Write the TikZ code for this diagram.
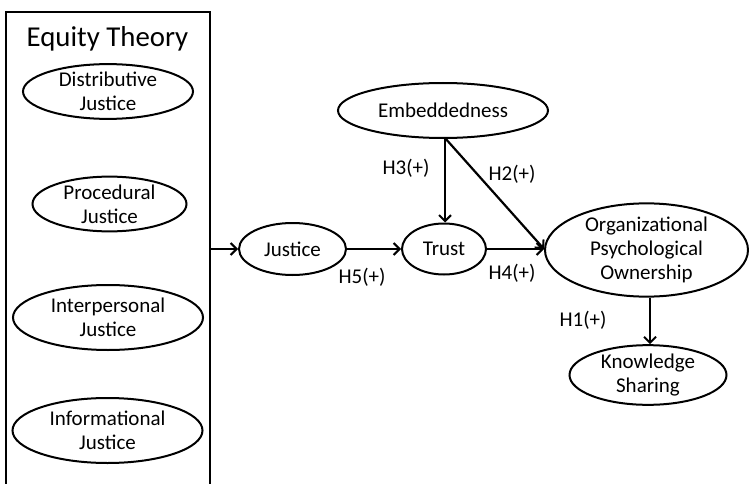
\documentclass[tikz,border=0pt]{standalone}
\usepackage{fontspec}
\setmainfont{Carlito}
\usetikzlibrary{shapes.geometric,arrows.meta}

\begin{document}
\begin{tikzpicture}[x=1pt,y=-1pt,
    construct/.style={draw, ellipse, line width=2pt, inner sep=0pt, align=center,
        font=\fontsize{21}{24}\selectfont},
    hyp/.style={line width=2.2pt, -{Straight Barb[length=6pt,width=12pt,line width=2pt]}},
    hlabel/.style={font=\fontsize{21}{24}\selectfont}]
\useasboundingbox (0,0) rectangle (749,484);
% equity theory frame, open at the bottom
\draw[line width=2pt] (6,486) -- (6,12) -- (210,12) -- (210,486);
\node[anchor=base, font=\fontsize{28.8}{32}\selectfont] (eqtitle) at (107.5,47) {Equity Theory};
\node[construct, minimum width=170, minimum height=53] (distr) at (108,91.5) {Distributive\\Justice};
\node[construct, minimum width=154, minimum height=52] (proc) at (109.5,204) {Procedural\\Justice};
\node[construct, minimum width=190, minimum height=65] (inter) at (108,317.5) {Interpersonal\\Justice};
\node[construct, minimum width=190, minimum height=65] (info) at (107.5,430.5) {Informational\\Justice};
\coordinate (eqout) at (210,249);

% research model
\node[construct, minimum width=107, minimum height=52] (just) at (292.5,249) {Justice};
\node[construct, minimum width=84, minimum height=51] (trust) at (444,249) {Trust};
\node[construct, minimum width=210, minimum height=55] (embed) at (443,110.5) {Embeddedness};
\node[construct, minimum width=203, minimum height=84] (opo) at (646.5,250) {Organizational\\Psychological\\Ownership};
\node[construct, minimum width=157, minimum height=54] (ks) at (648,375) {Knowledge\\Sharing};
\coordinate (embot) at (445,138);

\draw[hyp] (eqout) -- (just);
\draw[hyp] (just) -- (trust);
\draw[hyp] (trust.east) -- (trust.east -| opo.west);
\draw[hyp] (embot) -- (embot |- trust.north);
\draw[hyp] (embot) -- (trust.east -| opo.west);
\draw[hyp] (opo.south -| 650,0) -- (ks.north -| 650,0);

\node[hlabel] (h1) at (583,320) {H1(+)};
\node[hlabel] (h2) at (512,174) {H2(+)};
\node[hlabel] (h3) at (406,168) {H3(+)};
\node[hlabel] (h4) at (512,273) {H4(+)};
\node[hlabel] (h5) at (362,277) {H5(+)};
\end{tikzpicture}
\end{document}
